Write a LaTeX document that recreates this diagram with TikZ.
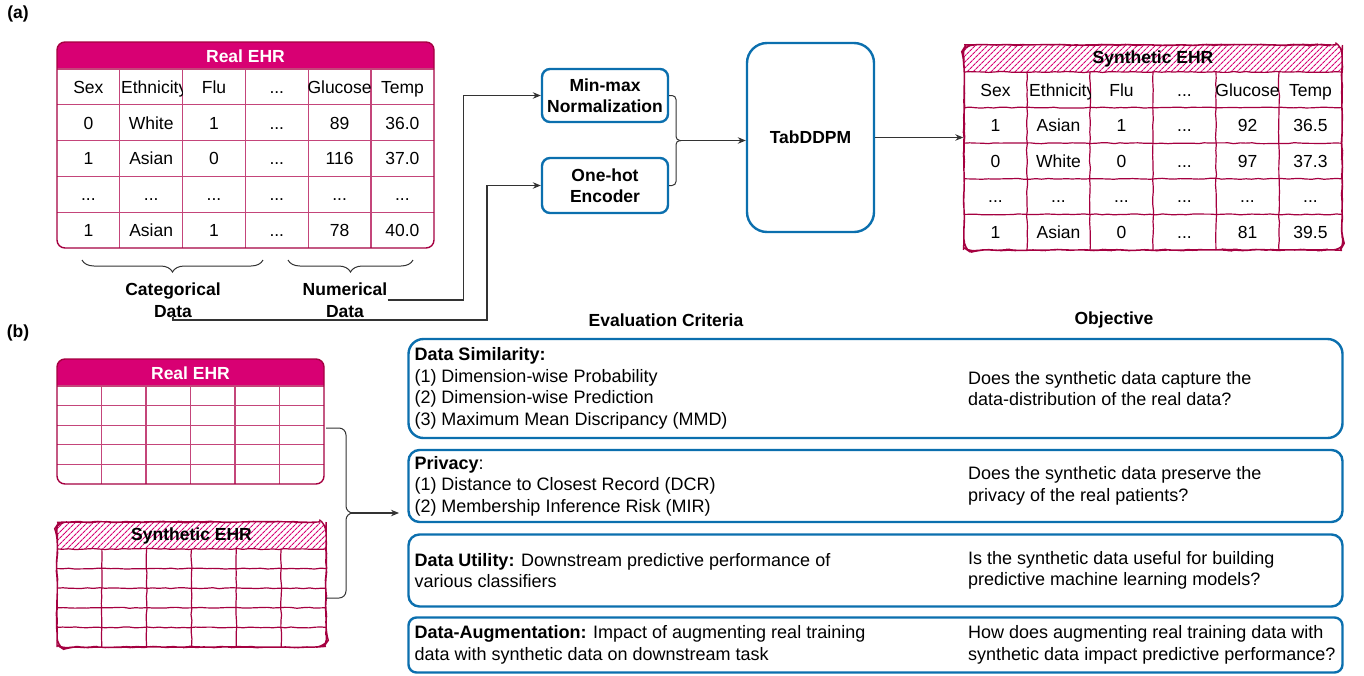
\documentclass[tikz,border=0pt]{standalone}
\usepackage{fontspec}
\setmainfont{Liberation Sans}
\usetikzlibrary{arrows.meta,decorations.pathmorphing,decorations.pathreplacing,patterns.meta,positioning}

\definecolor{ehrmag}{HTML}{D80073}
\definecolor{ehrdark}{HTML}{A50040}
\definecolor{ehrgrid}{HTML}{C4457A}
\definecolor{boxblue}{HTML}{0B6FAE}
\newcommand{\ehrdots}{...}

\tikzset{
  txt/.style={font=\fontsize{17.5}{21.5}\selectfont, inner sep=0pt},
  btxt/.style={font=\fontsize{17.5}{21.5}\selectfont\bfseries, inner sep=0pt},
  evtxt/.style={font=\fontsize{18}{21.5}\selectfont, inner sep=0pt, align=left, anchor=west},
  cell/.style={txt, text height=12.6pt, text depth=0pt},
  ehrrule/.style={ehrgrid, line width=1.1pt},
  sketchy/.style={decorate, decoration={random steps, segment length=6pt, amplitude=0.5pt}},
  synrule/.style={ehrdark, line width=1.2pt, sketchy},
  ehrframe/.style={draw=ehrdark, line width=1.4pt, rounded corners=8pt},
  hatch/.style={pattern={Lines[angle=45,distance=4pt,line width=1.2pt]}, pattern color=ehrmag},
  bluebox/.style={draw=boxblue, line width=2.4pt, align=center, btxt},
  evalbox/.style={draw=boxblue, line width=2.4pt, minimum width=934pt},
  conn/.style={black!80, line width=1.1pt, -{Stealth[length=8pt,width=6.5pt]}},
  curly/.style={black!80, line width=1pt},
}

\begin{document}
\begin{tikzpicture}[x=1pt,y=-1pt]
\useasboundingbox (0,0) rectangle (1364,675);

\node[btxt] (lbla) at (18,14) {(a)};
\node[btxt] (lblb) at (18,333) {(b)};

% real EHR table
\fill[ehrmag] (57,69) [rounded corners=8pt] -- (57,42) -- (434,42) [sharp corners] -- (434,69) -- cycle;
\node[btxt, text=white] (realhead) at (245.5,56) {Real EHR};
\foreach \k in {1,...,5}
  \draw[ehrrule] ({57+62.8*\k},69) -- ({57+62.8*\k},248);
\foreach \k in {0,...,4}
  \draw[ehrrule] (57,{69+35.8*\k}) -- (434,{69+35.8*\k});
\node[ehrframe, minimum width=377pt, minimum height=206pt] (real) at (245.5,145) {};
\begin{scope}
  \clip (120,69) rectangle (182.6,105);
  \node[cell, anchor=west] (re-h2) at (121,87) {Ethnicity};
\end{scope}
\foreach \c/\t in {1/Sex,3/Flu,4/\ehrdots,5/Glucose,6/Temp}
  \node[cell] (re-h\c) at ({57+62.8*(\c-0.5)},87) {\t};
\foreach \r/\vals in {1/{0,White,1,\ehrdots,89,36.0},2/{1,Asian,0,\ehrdots,116,37.0},
    3/{\ehrdots,\ehrdots,\ehrdots,\ehrdots,\ehrdots,\ehrdots},4/{1,Asian,1,\ehrdots,78,40.0}}
  \foreach \t [count=\c] in \vals
    \node[cell] (re-\r-\c) at ({57+62.8*(\c-0.5)},{69+35.8*(\r+0.5)}) {\t};

% braces under the table
\draw[curly, decorate, decoration={brace,amplitude=12pt}] (263,260) -- (82,260);
\draw[curly, decorate, decoration={brace,amplitude=12pt}] (413,260) -- (288,260);
\node[btxt, align=center] (cat) at (173,300) {Categorical\\Data};
\node[btxt, align=center] (num) at (345,300) {Numerical\\Data};

% preprocessing
\node[bluebox, rounded corners=8pt, minimum width=126pt, minimum height=53pt] (mm) at (605,95.5) {Min-max\\Normalization};
\node[bluebox, rounded corners=8pt, minimum width=126pt, minimum height=55pt] (oh) at (605,185.5) {One-hot\\Encoder};
\node[bluebox, rounded corners=20pt, minimum width=127pt, minimum height=189pt] (tab) at (810.5,137.5) {TabDDPM};

\draw[conn] (num.east) -- ++(76,0) |- (mm.west);
\draw[conn] (cat.south) |- (487,320) |- (oh.west);

\coordinate (mixtip) at (681,140.5);
\draw[curly, rounded corners=4pt] (mm.east) -| (676,140.5) -- (mixtip);
\draw[curly, rounded corners=4pt] (oh.east) -| (676,140.5) -- (mixtip);
\draw[conn] (mixtip) -- (mixtip -| tab.west);

% synthetic EHR table
\fill[hatch] (964,72) [rounded corners=8pt] -- (964,45) -- (1342,45) [sharp corners] -- (1342,72) -- cycle;
\node[btxt] (synhead) at (1153,59) {Synthetic EHR};
\foreach \k in {1,...,5}
  \draw[synrule] ({964+63*\k},72) -- ({964+63*\k},250);
\foreach \k in {0,...,4}
  \draw[synrule] (964,{72+35.6*\k}) -- (1342,{72+35.6*\k});
\node[ehrframe, sketchy, minimum width=378pt, minimum height=205pt] (syn) at (1153,147.5) {};
\begin{scope}
  \clip (1027,72) rectangle (1090,107);
  \node[cell, anchor=west] (se-h2) at (1029,90) {Ethnicity};
\end{scope}
\foreach \c/\t in {1/Sex,3/Flu,4/\ehrdots,5/Glucose,6/Temp}
  \node[cell] (se-h\c) at ({964+63*(\c-0.5)},90) {\t};
\foreach \r/\vals in {1/{1,Asian,1,\ehrdots,92,36.5},2/{0,White,0,\ehrdots,97,37.3},
    3/{\ehrdots,\ehrdots,\ehrdots,\ehrdots,\ehrdots,\ehrdots},4/{1,Asian,0,\ehrdots,81,39.5}}
  \foreach \t [count=\c] in \vals
    \node[cell] (se-\r-\c) at ({964+63*(\c-0.5)},{72+35.6*(\r+0.5)}) {\t};

\draw[conn] (tab.east) -- (tab.east -| syn.west);

% (b) small tables
\fill[ehrmag] (57,386) [rounded corners=8pt] -- (57,359) -- (324,359) [sharp corners] -- (324,386) -- cycle;
\node[btxt, text=white] (realbhead) at (190.5,373) {Real EHR};
\foreach \k in {1,...,5}
  \draw[ehrrule] ({57+44.5*\k},386) -- ({57+44.5*\k},484);
\foreach \k in {0,...,4}
  \draw[ehrrule] (57,{386+19.6*\k}) -- (324,{386+19.6*\k});
\node[ehrframe, minimum width=267pt, minimum height=125pt] (realb) at (190.5,421.5) {};

\fill[hatch] (57,549) [rounded corners=8pt] -- (57,522) -- (326,522) [sharp corners] -- (326,549) -- cycle;
\node[btxt] (synbhead) at (191.5,536) {Synthetic EHR};
\foreach \k in {1,...,5}
  \draw[synrule] ({57+44.83*\k},549) -- ({57+44.83*\k},647);
\foreach \k in {0,...,4}
  \draw[synrule] (57,{549+19.6*\k}) -- (326,{549+19.6*\k});
\node[ehrframe, sketchy, minimum width=269pt, minimum height=125pt] (synb) at (191.5,584.5) {};

\coordinate (btip) at (352,513);
\coordinate (bend) at (399,513);
\draw[curly, rounded corners=7pt] (326,428) -| (346,513) -- (btip);
\draw[curly, rounded corners=7pt] (326,598) -| (346,513) -- (btip);
\draw[conn] (btip) -- (bend);

% evaluation
\node[btxt] (evalhead) at (666,320) {Evaluation Criteria};
\node[btxt] (objhead) at (1114,320) {Objective};
\coordinate (objx) at (968,0);

\node[evalbox, rounded corners=15pt, minimum height=99pt] (sim) at (875.5,388.5) {};
\node[evtxt] (sim-c) at ([xshift=7pt]sim.west) {\textbf{Data Similarity:}\\(1) Dimension-wise Probability\\(2) Dimension-wise Prediction\\(3) Maximum Mean Discripancy (MMD)};
\node[evtxt] (sim-o) at (sim.west -| objx) {Does the synthetic data capture the\\data-distribution of the real data?};

\node[evalbox, rounded corners=11pt, minimum height=72pt] (priv) at (875.5,486) {};
\node[evtxt] (priv-c) at ([xshift=7pt]priv.west) {\textbf{Privacy}:\\(1) Distance to Closest Record (DCR)\\(2) Membership Inference Risk (MIR)};
\node[evtxt] (priv-o) at (priv.west -| objx) {Does the synthetic data preserve the\\privacy of the real patients?};

\node[evalbox, rounded corners=11pt, minimum height=72pt] (util) at (875.5,570.5) {};
\node[evtxt] (util-c) at ([xshift=7pt]util.west) {\textbf{Data Utility:} Downstream predictive performance of\\various classifiers};
\node[evtxt] (util-o) at (util.west -| objx) {Is the synthetic data useful for building\\predictive machine learning models?};

\node[evalbox, rounded corners=8pt, minimum height=55pt] (aug) at (875.5,645) {};
\node[evtxt] (aug-c) at ([xshift=7pt]aug.west) {\textbf{Data-Augmentation:} Impact of augmenting real training\\data with synthetic data on downstream task};
\node[evtxt] (aug-o) at (aug.west -| objx) {How does augmenting real training data with\\synthetic data impact predictive performance?};
\end{tikzpicture}
\end{document}
